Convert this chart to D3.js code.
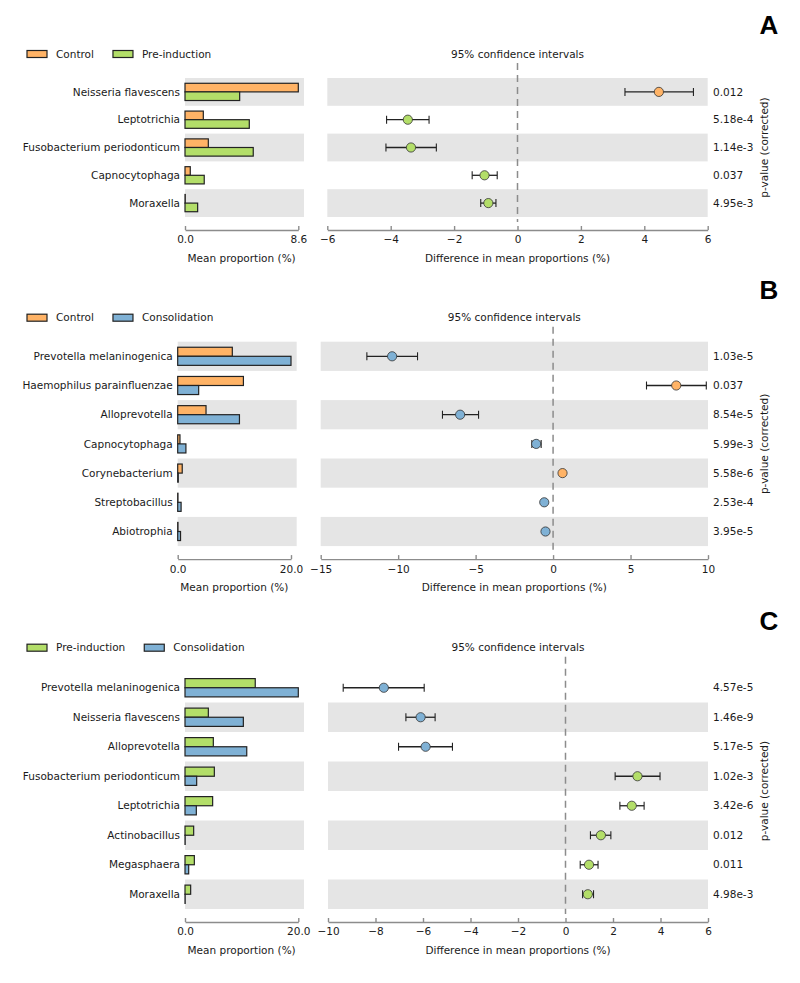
<!DOCTYPE html>
<html>
<head>
<meta charset="utf-8">
<script src="https://cdn.jsdelivr.net/npm/d3@7"></script>
<style>
    body { margin: 0; background: #fff; }
    text { font-family: 'DejaVu Sans', sans-serif; font-size: 10.5px; fill: #1a1a1a; }
    .axis path, .axis line { stroke: #8c8c8c; stroke-width: 1.4; }
    .axis text { font-family: 'DejaVu Sans', sans-serif; font-size: 10.5px; fill: #1a1a1a; }
    .letter { font-family: 'Liberation Sans', Arial, sans-serif; font-size: 26px; font-weight: bold; fill: #000; }
</style>
</head>
<body>
<script>
/**
 * Data: panel A (Control vs Pre-induction).
 */
const taxaA = ['Neisseria flavescens', 'Leptotrichia', 'Fusobacterium periodonticum', 'Capnocytophaga', 'Moraxella'];
const groupsA = ['Control', 'Pre-induction'];
const meanA1 = [8.6, 1.39, 1.77, 0.40, 0.02];
const meanA2 = [4.15, 4.88, 5.18, 1.46, 0.96];
const diffA = [4.46, -3.46, -3.36, -1.04, -0.92];
const lowA = [3.39, -4.13, -4.15, -1.43, -1.16];
const highA = [5.55, -2.79, -2.56, -0.64, -0.68];
const pA = ['0.012', '5.18e-4', '1.14e-3', '0.037', '4.95e-3'];
const maxA = 8.6;
const diffDomainA = [-6, 6];
const diffTicksA = [-6, -4, -2, 0, 2, 4, 6];

/**
 * Data: panel B (Control vs Consolidation).
 */
const taxaB = ['Prevotella melaninogenica', 'Haemophilus parainfluenzae', 'Alloprevotella', 'Capnocytophaga',
    'Corynebacterium', 'Streptobacillus', 'Abiotrophia'];
const groupsB = ['Control', 'Consolidation'];
const meanB1 = [9.64, 11.6, 5.0, 0.4, 0.8, 0.05, 0.05];
const meanB2 = [20.0, 3.7, 10.9, 1.45, 0.1, 0.6, 0.5];
const diffB = [-10.39, 7.95, -6.0, -1.09, 0.61, -0.57, -0.49];
const lowB = [-12.02, 6.03, -7.14, -1.37, 0.52, -0.63, -0.55];
const highB = [-8.75, 9.89, -4.81, -0.77, 0.70, -0.51, -0.43];
const pB = ['1.03e-5', '0.037', '8.54e-5', '5.99e-3', '5.58e-6', '2.53e-4', '3.95e-5'];
const maxB = 20.0;
const diffDomainB = [-15, 10];
const diffTicksB = [-15, -10, -5, 0, 5, 10];

/**
 * Data: panel C (Pre-induction vs Consolidation).
 */
const taxaC = ['Prevotella melaninogenica', 'Neisseria flavescens', 'Alloprevotella', 'Fusobacterium periodonticum',
    'Leptotrichia', 'Actinobacillus', 'Megasphaera', 'Moraxella'];
const groupsC = ['Pre-induction', 'Consolidation'];
const meanC1 = [12.4, 4.12, 5.0, 5.18, 4.88, 1.53, 1.65, 1.0];
const meanC2 = [20.0, 10.3, 10.9, 2.06, 2.0, 0.03, 0.65, 0.03];
const diffC = [-7.65, -6.1, -5.89, 3.03, 2.79, 1.49, 0.99, 0.94];
const lowC = [-9.36, -6.72, -7.03, 2.09, 2.29, 1.05, 0.62, 0.72];
const highC = [-5.95, -5.49, -4.76, 3.98, 3.31, 1.91, 1.37, 1.18];
const pC = ['4.57e-5', '1.46e-9', '5.17e-5', '1.02e-3', '3.42e-6', '0.012', '0.011', '4.98e-3'];
const maxC = 20.0;
const diffDomainC = [-10, 6];
const diffTicksC = [-10, -8, -6, -4, -2, 0, 2, 4, 6];

/**
 * Visual configs.
 */
const colors = { 'Control': '#ffb366', 'Pre-induction': '#b3de69', 'Consolidation': '#7fb1d5' };
const bandColor = '#e5e5e5';

const svg = d3.select('body').append('svg')
    .attr('width', 800)
    .attr('height', 983);

drawPanel({ letter: 'A', letterY: 34, legendY: 54, top: 78, rowH: 27.8, shadeFirst: true,
        barX: 185, diffX: [327.3, 707.7] },
    { taxa: taxaA, groups: groupsA, m1: meanA1, m2: meanA2, diff: diffA, low: lowA, high: highA, p: pA,
        max: maxA, domain: diffDomainA, ticks: diffTicksA });

drawPanel({ letter: 'B', letterY: 299, legendY: 317.7, top: 341.7, rowH: 29.2, shadeFirst: true,
        barX: 177.7, diffX: [320.7, 708] },
    { taxa: taxaB, groups: groupsB, m1: meanB1, m2: meanB2, diff: diffB, low: lowB, high: highB, p: pB,
        max: maxB, domain: diffDomainB, ticks: diffTicksB });

drawPanel({ letter: 'C', letterY: 630, legendY: 647.7, top: 673, rowH: 29.5, shadeFirst: false,
        barX: 185, diffX: [328, 708] },
    { taxa: taxaC, groups: groupsC, m1: meanC1, m2: meanC2, diff: diffC, low: lowC, high: highC, p: pC,
        max: maxC, domain: diffDomainC, ticks: diffTicksC });

/**
 * Draws one extended error bar panel: mean proportions on the left, CI plot on the right.
 */
function drawPanel(cfg, d) {
    const g = svg.append('g');
    const n = d.taxa.length;
    const bottom = cfg.top + n * cfg.rowH;
    const axisY = bottom + 13;
    const barW = 113.3, bandW = 119;

    const y = d3.scaleBand().domain(d3.range(n)).range([cfg.top, bottom]);
    const xBar = d3.scaleLinear().domain([0, d.max]).range([cfg.barX, cfg.barX + barW]);
    const xDiff = d3.scaleLinear().domain(d.domain).range(cfg.diffX);
    const barH = cfg.rowH * 0.31;

    // Row shading
    const shaded = d3.range(n).filter(i => (i % 2 === 0) === cfg.shadeFirst);
    g.selectAll('.band-l').data(shaded).join('rect')
        .attr('x', cfg.barX).attr('y', i => y(i))
        .attr('width', bandW).attr('height', y.bandwidth())
        .attr('fill', bandColor);
    g.selectAll('.band-r').data(shaded).join('rect')
        .attr('x', cfg.diffX[0]).attr('y', i => y(i))
        .attr('width', cfg.diffX[1] - cfg.diffX[0]).attr('height', y.bandwidth())
        .attr('fill', bandColor);

    // Legend
    let lx = 27;
    d.groups.forEach(name => {
        g.append('rect')
            .attr('x', lx).attr('y', cfg.legendY - 3.5)
            .attr('width', 20).attr('height', 7)
            .attr('fill', colors[name]).attr('stroke', '#222').attr('stroke-width', 1.2);
        const t = g.append('text')
            .attr('x', lx + 29).attr('y', cfg.legendY).attr('dy', '0.35em')
            .text(name);
        lx = lx + 29 + t.node().getComputedTextLength() + 19;
    });

    // Bars
    const rows = d3.range(n);
    g.selectAll('.bar1').data(rows).join('rect')
        .attr('x', xBar(0)).attr('y', i => y(i) + y.bandwidth() / 2 - barH)
        .attr('width', i => xBar(d.m1[i]) - xBar(0)).attr('height', barH)
        .attr('fill', colors[d.groups[0]]).attr('stroke', '#222').attr('stroke-width', 1.2);
    g.selectAll('.bar2').data(rows).join('rect')
        .attr('x', xBar(0)).attr('y', i => y(i) + y.bandwidth() / 2)
        .attr('width', i => xBar(d.m2[i]) - xBar(0)).attr('height', barH)
        .attr('fill', colors[d.groups[1]]).attr('stroke', '#222').attr('stroke-width', 1.2);

    // Taxon labels
    g.selectAll('.taxon').data(rows).join('text')
        .attr('x', cfg.barX - 5).attr('y', i => y(i) + y.bandwidth() / 2).attr('dy', '0.35em')
        .attr('text-anchor', 'end')
        .text(i => d.taxa[i]);

    // Left axis
    g.append('g').attr('class', 'axis')
        .attr('transform', 'translate(0,' + axisY + ')')
        .call(d3.axisBottom(xBar).tickValues([0, d.max]).tickFormat(d3.format('.1f'))
            .tickSizeInner(-4).tickSizeOuter(0).tickPadding(6));
    g.append('text')
        .attr('x', (xBar.range()[0] + xBar.range()[1]) / 2).attr('y', axisY + 28)
        .attr('dy', '0.35em').attr('text-anchor', 'middle')
        .text('Mean proportion (%)');

    // Right axis
    g.append('g').attr('class', 'axis')
        .attr('transform', 'translate(0,' + axisY + ')')
        .call(d3.axisBottom(xDiff).tickValues(d.ticks).tickSizeInner(-4).tickSizeOuter(0).tickPadding(6));
    const midX = (cfg.diffX[0] + cfg.diffX[1]) / 2;
    g.append('text')
        .attr('x', midX).attr('y', axisY + 28).attr('dy', '0.35em').attr('text-anchor', 'middle')
        .text('Difference in mean proportions (%)');
    g.append('text')
        .attr('x', midX).attr('y', cfg.legendY).attr('dy', '0.35em').attr('text-anchor', 'middle')
        .text('95% confidence intervals');

    // Zero line
    g.append('line')
        .attr('x1', xDiff(0)).attr('x2', xDiff(0))
        .attr('y1', cfg.legendY + 9).attr('y2', axisY - 8)
        .attr('stroke', '#8c8c8c').attr('stroke-width', 1.5).attr('stroke-dasharray', '7,5');

    // Confidence intervals
    const ci = g.selectAll('.ci').data(rows).join('g')
        .attr('transform', i => 'translate(0,' + (y(i) + y.bandwidth() / 2) + ')');
    ci.append('line')
        .attr('x1', i => xDiff(d.low[i])).attr('x2', i => xDiff(d.high[i]))
        .attr('stroke', '#222').attr('stroke-width', 1.3);
    ci.append('line')
        .attr('x1', i => xDiff(d.low[i])).attr('x2', i => xDiff(d.low[i]))
        .attr('y1', -4).attr('y2', 4)
        .attr('stroke', '#222').attr('stroke-width', 1.1);
    ci.append('line')
        .attr('x1', i => xDiff(d.high[i])).attr('x2', i => xDiff(d.high[i]))
        .attr('y1', -4).attr('y2', 4)
        .attr('stroke', '#222').attr('stroke-width', 1.1);
    ci.append('circle')
        .attr('cx', i => xDiff(d.diff[i])).attr('r', 4.6)
        .attr('fill', i => colors[d.diff[i] > 0 ? d.groups[0] : d.groups[1]])
        .attr('stroke', '#333').attr('stroke-width', 0.8);

    // p-values
    g.selectAll('.pval').data(rows).join('text')
        .attr('x', 713).attr('y', i => y(i) + y.bandwidth() / 2).attr('dy', '0.35em')
        .text(i => d.p[i]);
    g.append('text')
        .attr('transform', 'translate(768,' + ((cfg.top + bottom) / 2) + ') rotate(-90)')
        .attr('text-anchor', 'middle')
        .text('p-value (corrected)');

    // Panel letter
    g.append('text').attr('class', 'letter')
        .attr('x', 769).attr('y', cfg.letterY).attr('text-anchor', 'middle')
        .text(cfg.letter);
}
</script>
</body>
</html>
